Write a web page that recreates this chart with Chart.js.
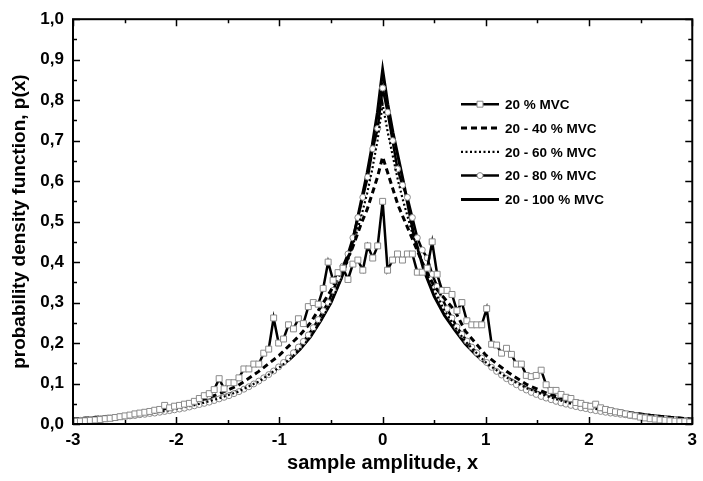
<!DOCTYPE html>
<html>
<head>
<meta charset="utf-8">
<title>pdf</title>
<script src="https://cdn.jsdelivr.net/npm/chart.js"></script>
<style>
  html, body { margin: 0; padding: 0; background: #fff; }
  canvas { display: block; }
</style>
</head>
<body>
<canvas id="pdfChart" width="703" height="481"></canvas>
<script>
// series names
const seriesNames = ['20 % MVC', '20 - 40 % MVC', '20 - 60 % MVC', '20 - 80 % MVC', '20 - 100 % MVC'];

// 125 histogram bins across [-3, 3], centre bin sits on 0
const binX = Array.from({length: 125}, (_, k) => -2.976 + 0.048 * k);

// x positions for the curves drawn without markers
const smoothX = [-3, -2.8, -2.6, -2.4, -2.2, -2, -1.8, -1.6, -1.4, -1.2, -1,
  -0.9, -0.8, -0.7, -0.6, -0.5, -0.4, -0.3, -0.2, -0.15, -0.1, -0.05, 0,
  0.05, 0.1, 0.15, 0.2, 0.3, 0.4, 0.5, 0.6, 0.7, 0.8, 0.9,
  1, 1.2, 1.4, 1.6, 1.8, 2, 2.2, 2.4, 2.6, 2.8, 3];

// 20 % MVC (squares), one value per bin
const mvc20 = [
  0.007, 0.007, 0.008, 0.009, 0.010, 0.011, 0.013, 0.014, 0.016, 0.018,
  0.020, 0.022, 0.025, 0.027, 0.029, 0.031, 0.034, 0.036, 0.046, 0.040,
  0.044, 0.046, 0.049, 0.051, 0.056, 0.063, 0.070, 0.075, 0.085, 0.112,
  0.087, 0.102, 0.102, 0.114, 0.136, 0.136, 0.148, 0.148, 0.175, 0.185,
  0.262, 0.200, 0.210, 0.245, 0.235, 0.260, 0.248, 0.290, 0.300, 0.296,
  0.335, 0.400, 0.355, 0.374, 0.385, 0.357, 0.395, 0.405, 0.380, 0.440,
  0.410, 0.440,
  0.550,
  0.380, 0.405, 0.420, 0.405, 0.420, 0.420, 0.375, 0.375, 0.385, 0.450,
  0.370, 0.330, 0.330, 0.320, 0.280, 0.300, 0.255, 0.245, 0.245, 0.245,
  0.285, 0.197, 0.195, 0.175, 0.187, 0.172, 0.148, 0.148, 0.120, 0.117,
  0.120, 0.133, 0.097, 0.083, 0.083, 0.073, 0.066, 0.063, 0.053, 0.051,
  0.046, 0.044, 0.049, 0.040, 0.036, 0.033, 0.030, 0.028, 0.025, 0.022,
  0.020, 0.017, 0.015, 0.013, 0.012, 0.010, 0.009, 0.008, 0.007, 0.006,
  0.006, 0.005
];

// 20 - 40 % MVC (dashed)
const mvc20to40 = [0.012, 0.016, 0.020, 0.026, 0.033, 0.043, 0.056, 0.073, 0.095, 0.130, 0.170,
  0.195, 0.220, 0.250, 0.290, 0.330, 0.380, 0.430, 0.500, 0.530, 0.570, 0.610, 0.660,
  0.620, 0.580, 0.540, 0.510, 0.450, 0.390, 0.340, 0.310, 0.280, 0.230, 0.200,
  0.170, 0.130, 0.097, 0.075, 0.060, 0.048, 0.037, 0.028, 0.021, 0.016, 0.012];

// 20 - 60 % MVC (dotted)
const mvc20to60 = [0.010, 0.013, 0.017, 0.022, 0.028, 0.037, 0.048, 0.062, 0.080, 0.105, 0.140,
  0.160, 0.185, 0.215, 0.255, 0.300, 0.360, 0.430, 0.520, 0.570, 0.630, 0.700, 0.790,
  0.720, 0.660, 0.600, 0.550, 0.460, 0.390, 0.330, 0.280, 0.240, 0.205, 0.178,
  0.152, 0.115, 0.088, 0.068, 0.052, 0.040, 0.031, 0.024, 0.018, 0.014, 0.010];

// 20 - 80 % MVC (circles), one value per bin
const mvc20to80 = [
  0.008, 0.009, 0.010, 0.011, 0.012, 0.013, 0.014, 0.015, 0.016, 0.018,
  0.019, 0.020, 0.021, 0.023, 0.024, 0.026, 0.027, 0.029, 0.031, 0.033,
  0.035, 0.037, 0.039, 0.042, 0.045, 0.048, 0.051, 0.054, 0.058, 0.062,
  0.066, 0.070, 0.075, 0.080, 0.086, 0.092, 0.099, 0.106, 0.114, 0.122,
  0.131, 0.141, 0.152, 0.163, 0.176, 0.190, 0.204, 0.220, 0.238, 0.258,
  0.280, 0.300, 0.330, 0.360, 0.390, 0.420, 0.460, 0.510, 0.560, 0.610,
  0.680, 0.730,
  0.830,
  0.770, 0.700, 0.630, 0.590, 0.560, 0.510, 0.460, 0.430, 0.410, 0.370,
  0.340, 0.310, 0.285, 0.262, 0.240, 0.222, 0.205, 0.190, 0.176, 0.163,
  0.152, 0.140, 0.130, 0.121, 0.112, 0.104, 0.097, 0.090, 0.084, 0.078,
  0.073, 0.068, 0.064, 0.060, 0.056, 0.052, 0.049, 0.046, 0.043, 0.040,
  0.038, 0.035, 0.033, 0.031, 0.029, 0.027, 0.026, 0.024, 0.023, 0.021,
  0.020, 0.018, 0.017, 0.016, 0.015, 0.014, 0.013, 0.012, 0.011, 0.010,
  0.009, 0.008
];

// 20 - 100 % MVC (solid)
const mvc20to100 = [0.012, 0.015, 0.019, 0.024, 0.031, 0.041, 0.052, 0.064, 0.082, 0.106, 0.142,
  0.160, 0.185, 0.215, 0.255, 0.300, 0.360, 0.440, 0.560, 0.620, 0.690, 0.770, 0.875,
  0.790, 0.720, 0.660, 0.600, 0.470, 0.380, 0.315, 0.268, 0.232, 0.198, 0.172,
  0.150, 0.115, 0.088, 0.068, 0.054, 0.043, 0.034, 0.027, 0.021, 0.016, 0.012];

const FONT = '"Liberation Sans", Arial, sans-serif';

function pairs(xs, ys) {
  return ys.map((v, i) => ({x: xs[i], y: v}));
}

// box round the plot plus inward ticks on all four sides
const frameTicks = {
  id: 'frameTicks',
  afterDatasetsDraw(chart) {
    const {ctx, chartArea: a, scales: {x, y}} = chart;
    ctx.save();
    ctx.strokeStyle = '#000';
    ctx.lineWidth = 1.5;
    ctx.beginPath();
    for (let i = 0; i <= 12; i++) {
      const px = Math.round(x.getPixelForValue(-3 + i * 0.5)) + 0.5;
      const len = i % 2 === 0 ? 7 : 4;
      ctx.moveTo(px, a.bottom); ctx.lineTo(px, a.bottom - len);
      ctx.moveTo(px, a.top); ctx.lineTo(px, a.top + len);
    }
    for (let i = 0; i <= 20; i++) {
      const py = Math.round(y.getPixelForValue(i * 0.05)) + 0.5;
      const len = i % 2 === 0 ? 7 : 4;
      ctx.moveTo(a.left, py); ctx.lineTo(a.left + len, py);
      ctx.moveTo(a.right, py); ctx.lineTo(a.right - len, py);
    }
    ctx.stroke();
    ctx.lineWidth = 2;
    ctx.strokeRect(a.left, a.top, a.right - a.left, a.bottom - a.top);
    ctx.restore();
  }
};

// legend drawn inside the plot, upper right
const innerLegend = {
  id: 'innerLegend',
  afterDraw(chart) {
    const {ctx, chartArea: a} = chart;
    ctx.save();
    chart.data.datasets.forEach((ds, i) => {
      const yy = a.top + 85 + i * 23.8;
      const x0 = a.left + 388, x1 = a.left + 426;
      ctx.strokeStyle = '#000';
      ctx.lineWidth = ds.borderWidth;
      ctx.setLineDash(ds.borderDash || []);
      ctx.beginPath();
      ctx.moveTo(x0, yy); ctx.lineTo(x1, yy);
      ctx.stroke();
      ctx.setLineDash([]);
      if (ds.pointRadius > 0) {
        ctx.fillStyle = ds.pointBackgroundColor;
        ctx.strokeStyle = ds.pointBorderColor;
        ctx.lineWidth = ds.pointBorderWidth;
        ctx.beginPath();
        if (ds.pointStyle === 'rect') {
          const s = ds.pointRadius * Math.SQRT1_2;
          ctx.rect((x0 + x1) / 2 - s, yy - s, 2 * s, 2 * s);
        } else {
          ctx.arc((x0 + x1) / 2, yy, ds.pointRadius, 0, Math.PI * 2);
        }
        ctx.fill(); ctx.stroke();
      }
      ctx.fillStyle = '#000';
      ctx.font = 'bold 13.5px ' + FONT;
      ctx.textBaseline = 'middle';
      ctx.textAlign = 'left';
      ctx.fillText(seriesNames[i], a.left + 432, yy + 1);
    });
    ctx.restore();
  }
};

const ctx = document.getElementById('pdfChart').getContext('2d');
const myChart = new Chart(ctx, {
  type: 'line',
  data: {
    datasets: [
      {
        label: seriesNames[0], data: pairs(binX, mvc20),
        borderColor: '#000', borderWidth: 2.5,
        pointStyle: 'rect', pointRadius: 4.2, pointBorderWidth: 1,
        pointBackgroundColor: '#fff', pointBorderColor: '#8a8a8a'
      },
      {
        label: seriesNames[1], data: pairs(smoothX, mvc20to40),
        borderColor: '#000', borderWidth: 3, borderDash: [6, 4], pointRadius: 0
      },
      {
        label: seriesNames[2], data: pairs(smoothX, mvc20to60),
        borderColor: '#000', borderWidth: 2.2, borderDash: [2, 2.5], pointRadius: 0
      },
      {
        label: seriesNames[3], data: pairs(binX, mvc20to80),
        borderColor: '#000', borderWidth: 2.5,
        pointStyle: 'circle', pointRadius: 3, pointBorderWidth: 1,
        pointBackgroundColor: '#fff', pointBorderColor: '#8a8a8a'
      },
      {
        label: seriesNames[4], data: pairs(smoothX, mvc20to100),
        borderColor: '#000', borderWidth: 3, pointRadius: 0
      }
    ]
  },
  options: {
    responsive: false,
    animation: false,
    layout: { padding: { top: 12, right: 5, left: 0, bottom: 0 } },
    plugins: { legend: { display: false }, tooltip: { enabled: false } },
    elements: { line: { tension: 0 } },
    scales: {
      x: {
        type: 'linear', min: -3, max: 3,
        grid: { display: false, drawTicks: false },
        border: { display: false },
        ticks: {
          stepSize: 1, padding: 6, color: '#000',
          font: { family: FONT, size: 17, weight: 'bold' },
          callback: v => String(v)
        },
        title: {
          display: true, text: 'sample amplitude, x', color: '#000',
          font: { family: FONT, size: 20, weight: 'bold' },
          padding: { top: 0, bottom: 6 }
        },
        afterFit(scale) { scale.height = 57; }
      },
      y: {
        min: 0, max: 1,
        grid: { display: false, drawTicks: false },
        border: { display: false },
        ticks: {
          stepSize: 0.1, padding: 9, color: '#000',
          font: { family: FONT, size: 17, weight: 'bold' },
          callback: v => v.toFixed(1).replace('.', ',')
        },
        title: {
          display: true, text: 'probability density function, p(x)', color: '#000',
          font: { family: FONT, size: 19, weight: 'bold' },
          padding: { top: 8, bottom: 0 }
        },
        afterFit(scale) { scale.width = 73; }
      }
    }
  },
  plugins: [frameTicks, innerLegend]
});
</script>
</body>
</html>
